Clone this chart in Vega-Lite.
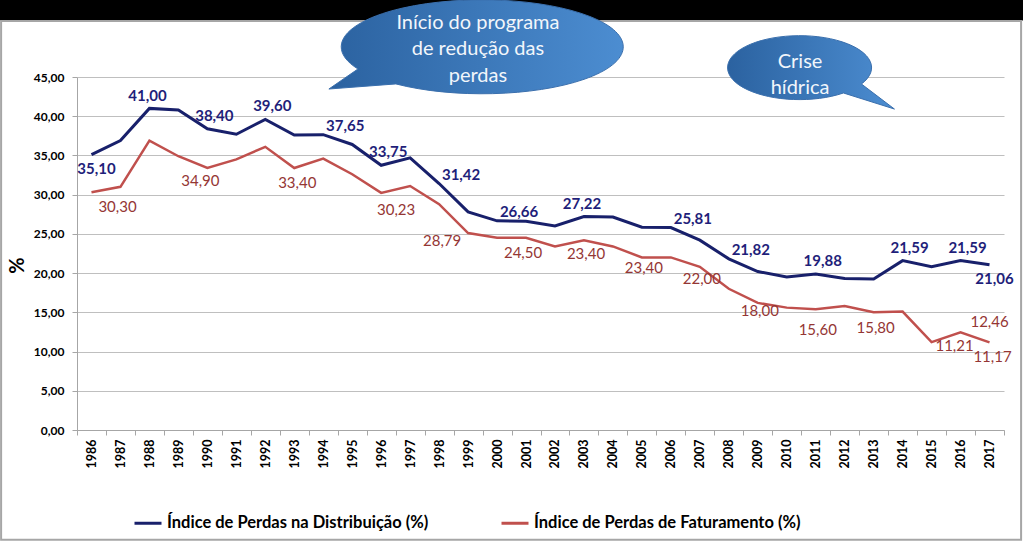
{
  "$schema": "https://vega.github.io/schema/vega-lite/v6.json",
  "width": 927,
  "height": 353,
  "autosize": {"type": "none"},
  "padding": {"left": 77, "top": 77, "right": 19, "bottom": 112},
  "background": "#FFFFFF",
  "config": {
    "font": "Lato",
    "locale": {"number": {"decimal": ",", "thousands": ".", "grouping": [3], "currency": ["R$", ""]}},
    "view": {"stroke": null}
  },
  "datasets": {
    "series": [
      {"ano": 1986, "serie": "Índice de Perdas na Distribuição (%)", "valor": 35.10},
      {"ano": 1987, "serie": "Índice de Perdas na Distribuição (%)", "valor": 36.9},
      {"ano": 1988, "serie": "Índice de Perdas na Distribuição (%)", "valor": 41.00},
      {"ano": 1989, "serie": "Índice de Perdas na Distribuição (%)", "valor": 40.8},
      {"ano": 1990, "serie": "Índice de Perdas na Distribuição (%)", "valor": 38.40},
      {"ano": 1991, "serie": "Índice de Perdas na Distribuição (%)", "valor": 37.7},
      {"ano": 1992, "serie": "Índice de Perdas na Distribuição (%)", "valor": 39.60},
      {"ano": 1993, "serie": "Índice de Perdas na Distribuição (%)", "valor": 37.6},
      {"ano": 1994, "serie": "Índice de Perdas na Distribuição (%)", "valor": 37.65},
      {"ano": 1995, "serie": "Índice de Perdas na Distribuição (%)", "valor": 36.4},
      {"ano": 1996, "serie": "Índice de Perdas na Distribuição (%)", "valor": 33.75},
      {"ano": 1997, "serie": "Índice de Perdas na Distribuição (%)", "valor": 34.7},
      {"ano": 1998, "serie": "Índice de Perdas na Distribuição (%)", "valor": 31.42},
      {"ano": 1999, "serie": "Índice de Perdas na Distribuição (%)", "valor": 27.8},
      {"ano": 2000, "serie": "Índice de Perdas na Distribuição (%)", "valor": 26.66},
      {"ano": 2001, "serie": "Índice de Perdas na Distribuição (%)", "valor": 26.6},
      {"ano": 2002, "serie": "Índice de Perdas na Distribuição (%)", "valor": 26.0},
      {"ano": 2003, "serie": "Índice de Perdas na Distribuição (%)", "valor": 27.22},
      {"ano": 2004, "serie": "Índice de Perdas na Distribuição (%)", "valor": 27.15},
      {"ano": 2005, "serie": "Índice de Perdas na Distribuição (%)", "valor": 25.85},
      {"ano": 2006, "serie": "Índice de Perdas na Distribuição (%)", "valor": 25.81},
      {"ano": 2007, "serie": "Índice de Perdas na Distribuição (%)", "valor": 24.2},
      {"ano": 2008, "serie": "Índice de Perdas na Distribuição (%)", "valor": 21.82},
      {"ano": 2009, "serie": "Índice de Perdas na Distribuição (%)", "valor": 20.2},
      {"ano": 2010, "serie": "Índice de Perdas na Distribuição (%)", "valor": 19.5},
      {"ano": 2011, "serie": "Índice de Perdas na Distribuição (%)", "valor": 19.88},
      {"ano": 2012, "serie": "Índice de Perdas na Distribuição (%)", "valor": 19.3},
      {"ano": 2013, "serie": "Índice de Perdas na Distribuição (%)", "valor": 19.25},
      {"ano": 2014, "serie": "Índice de Perdas na Distribuição (%)", "valor": 21.59},
      {"ano": 2015, "serie": "Índice de Perdas na Distribuição (%)", "valor": 20.8},
      {"ano": 2016, "serie": "Índice de Perdas na Distribuição (%)", "valor": 21.59},
      {"ano": 2017, "serie": "Índice de Perdas na Distribuição (%)", "valor": 21.06},
      {"ano": 1986, "serie": "Índice de Perdas de Faturamento (%)", "valor": 30.30},
      {"ano": 1987, "serie": "Índice de Perdas de Faturamento (%)", "valor": 31.0},
      {"ano": 1988, "serie": "Índice de Perdas de Faturamento (%)", "valor": 36.9},
      {"ano": 1989, "serie": "Índice de Perdas de Faturamento (%)", "valor": 34.90},
      {"ano": 1990, "serie": "Índice de Perdas de Faturamento (%)", "valor": 33.4},
      {"ano": 1991, "serie": "Índice de Perdas de Faturamento (%)", "valor": 34.5},
      {"ano": 1992, "serie": "Índice de Perdas de Faturamento (%)", "valor": 36.1},
      {"ano": 1993, "serie": "Índice de Perdas de Faturamento (%)", "valor": 33.40},
      {"ano": 1994, "serie": "Índice de Perdas de Faturamento (%)", "valor": 34.6},
      {"ano": 1995, "serie": "Índice de Perdas de Faturamento (%)", "valor": 32.6},
      {"ano": 1996, "serie": "Índice de Perdas de Faturamento (%)", "valor": 30.23},
      {"ano": 1997, "serie": "Índice de Perdas de Faturamento (%)", "valor": 31.1},
      {"ano": 1998, "serie": "Índice de Perdas de Faturamento (%)", "valor": 28.79},
      {"ano": 1999, "serie": "Índice de Perdas de Faturamento (%)", "valor": 25.1},
      {"ano": 2000, "serie": "Índice de Perdas de Faturamento (%)", "valor": 24.50},
      {"ano": 2001, "serie": "Índice de Perdas de Faturamento (%)", "valor": 24.5},
      {"ano": 2002, "serie": "Índice de Perdas de Faturamento (%)", "valor": 23.40},
      {"ano": 2003, "serie": "Índice de Perdas de Faturamento (%)", "valor": 24.2},
      {"ano": 2004, "serie": "Índice de Perdas de Faturamento (%)", "valor": 23.40},
      {"ano": 2005, "serie": "Índice de Perdas de Faturamento (%)", "valor": 22.0},
      {"ano": 2006, "serie": "Índice de Perdas de Faturamento (%)", "valor": 22.00},
      {"ano": 2007, "serie": "Índice de Perdas de Faturamento (%)", "valor": 20.8},
      {"ano": 2008, "serie": "Índice de Perdas de Faturamento (%)", "valor": 18.00},
      {"ano": 2009, "serie": "Índice de Perdas de Faturamento (%)", "valor": 16.2},
      {"ano": 2010, "serie": "Índice de Perdas de Faturamento (%)", "valor": 15.60},
      {"ano": 2011, "serie": "Índice de Perdas de Faturamento (%)", "valor": 15.4},
      {"ano": 2012, "serie": "Índice de Perdas de Faturamento (%)", "valor": 15.80},
      {"ano": 2013, "serie": "Índice de Perdas de Faturamento (%)", "valor": 15.0},
      {"ano": 2014, "serie": "Índice de Perdas de Faturamento (%)", "valor": 15.1},
      {"ano": 2015, "serie": "Índice de Perdas de Faturamento (%)", "valor": 11.21},
      {"ano": 2016, "serie": "Índice de Perdas de Faturamento (%)", "valor": 12.46},
      {"ano": 2017, "serie": "Índice de Perdas de Faturamento (%)", "valor": 11.17}
    ]
  },
  "layer": [
    {
      "data": {"name": "series"},
      "encoding": {
        "x": {
          "field": "ano", "type": "ordinal",
          "scale": {"paddingInner": 0, "paddingOuter": 0},
          "axis": {"title": null, "labelAngle": 270, "labelFont": "Lato", "labelFontSize": 12.5, "labelFontWeight": "bold", "labelColor": "#000000", "labelPadding": 4, "tickBand": "extent", "tickSize": 5, "tickColor": "#A6A6A6", "domainColor": "#A6A6A6", "grid": false}
        },
        "y": {
          "field": "valor", "type": "quantitative",
          "scale": {"domain": [0, 45], "nice": false},
          "axis": {"title": "%", "values": [0, 5, 10, 15, 20, 25, 30, 35, 40, 45], "format": ".2f", "labelFont": "Lato", "labelFontSize": 12, "labelFontWeight": "bold", "labelColor": "#000000", "labelPadding": 8, "tickSize": 5, "tickColor": "#A6A6A6", "domainColor": "#A6A6A6", "grid": true, "gridColor": "#BFBFBF", "titleFont": "Lato", "titleFontSize": 20, "titleFontWeight": "bold", "titleColor": "#000000", "titleAngle": 270, "titleX": -60, "titleY": 188, "titleBaseline": "middle", "titleAlign": "center"}
        }
      },
      "layer": [
        {
          "transform": [{"filter": {"field": "serie", "equal": "Índice de Perdas na Distribuição (%)"}}],
          "mark": {"type": "line", "strokeWidth": 3},
          "encoding": {
            "color": {"field": "serie", "type": "nominal",
              "scale": {"domain": ["Índice de Perdas na Distribuição (%)", "Índice de Perdas de Faturamento (%)"], "range": ["#18206B", "#C0504D"]},
              "legend": {"orient": "none", "legendX": 56, "legendY": 431, "direction": "horizontal", "title": null, "symbolType": "stroke", "symbolSize": 729, "symbolStrokeWidth": 3, "labelFont": "Lato", "labelFontSize": 16.5, "labelFontWeight": "bold", "labelColor": "#000000", "columnPadding": 66, "labelLimit": 400, "padding": 0}
            }
          }
        },
        {
          "transform": [{"filter": {"field": "serie", "equal": "Índice de Perdas de Faturamento (%)"}}],
          "mark": {"type": "line", "strokeWidth": 2.5},
          "encoding": {"color": {"field": "serie", "type": "nominal"}}
        },
        {
          "data": {"values": [{"ano": 1994}, {"ano": 2014}]},
          "mark": {"type": "rule", "color": "#000000", "strokeWidth": 2},
          "encoding": {"y": {"datum": 0, "type": "quantitative"}, "y2": {"datum": 45.4}}
        },
        {
          "transform": [{"filter": {"field": "serie", "equal": "Índice de Perdas na Distribuição (%)"}}, {"filter": {"field": "ano", "oneOf": [1990, 1992, 1996, 2011, 2014, 2016]}}],
          "mark": {"type": "text", "dx": 7, "dy": -13, "fontSize": 15, "fontWeight": "bold", "color": "#1F1F7A", "font": "Lato"},
          "encoding": {"text": {"field": "valor", "type": "quantitative", "format": ".2f"}}
        },
        {
          "transform": [{"filter": {"field": "serie", "equal": "Índice de Perdas na Distribuição (%)"}}, {"filter": {"field": "ano", "oneOf": [1988, 2003]}}],
          "mark": {"type": "text", "dx": -2, "dy": -12, "fontSize": 15, "fontWeight": "bold", "color": "#1F1F7A", "font": "Lato"},
          "encoding": {"text": {"field": "valor", "type": "quantitative", "format": ".2f"}}
        },
        {
          "transform": [{"filter": {"field": "serie", "equal": "Índice de Perdas na Distribuição (%)"}}, {"filter": {"field": "ano", "oneOf": [1994, 1998, 2000, 2006, 2008]}}],
          "mark": {"type": "text", "dx": 22, "dy": -9, "fontSize": 15, "fontWeight": "bold", "color": "#1F1F7A", "font": "Lato"},
          "encoding": {"text": {"field": "valor", "type": "quantitative", "format": ".2f"}}
        },
        {
          "transform": [{"filter": {"field": "serie", "equal": "Índice de Perdas na Distribuição (%)"}}, {"filter": {"field": "ano", "oneOf": [1986, 2017]}}],
          "mark": {"type": "text", "dx": 5, "dy": 14, "fontSize": 15, "fontWeight": "bold", "color": "#1F1F7A", "font": "Lato"},
          "encoding": {"text": {"field": "valor", "type": "quantitative", "format": ".2f"}}
        },
        {
          "transform": [{"filter": {"field": "serie", "equal": "Índice de Perdas de Faturamento (%)"}}, {"filter": {"field": "ano", "oneOf": [1986, 2000]}}],
          "mark": {"type": "text", "dx": 26, "dy": 15, "fontSize": 15, "color": "#943634", "font": "Lato"},
          "encoding": {"text": {"field": "valor", "type": "quantitative", "format": ".2f"}}
        },
        {
          "transform": [{"filter": {"field": "serie", "equal": "Índice de Perdas de Faturamento (%)"}}, {"filter": {"field": "ano", "oneOf": [1993, 2017]}}],
          "mark": {"type": "text", "dx": 3, "dy": 15, "fontSize": 15, "color": "#943634", "font": "Lato"},
          "encoding": {"text": {"field": "valor", "type": "quantitative", "format": ".2f"}}
        },
        {
          "transform": [{"filter": {"field": "serie", "equal": "Índice de Perdas de Faturamento (%)"}}, {"filter": {"field": "ano", "oneOf": [2004, 2006, 2008, 2010, 2012]}}],
          "mark": {"type": "text", "dx": 31, "dy": 22, "fontSize": 15, "color": "#943634", "font": "Lato"},
          "encoding": {"text": {"field": "valor", "type": "quantitative", "format": ".2f"}}
        },
        {
          "transform": [{"filter": {"field": "serie", "equal": "Índice de Perdas de Faturamento (%)"}}, {"filter": {"field": "ano", "oneOf": [1989]}}],
          "mark": {"type": "text", "dx": 22, "dy": 25, "fontSize": 15, "color": "#943634", "font": "Lato"},
          "encoding": {"text": {"field": "valor", "type": "quantitative", "format": ".2f"}}
        },
        {
          "transform": [{"filter": {"field": "serie", "equal": "Índice de Perdas de Faturamento (%)"}}, {"filter": {"field": "ano", "oneOf": [1996]}}],
          "mark": {"type": "text", "dx": 15, "dy": 17, "fontSize": 15, "color": "#943634", "font": "Lato"},
          "encoding": {"text": {"field": "valor", "type": "quantitative", "format": ".2f"}}
        },
        {
          "transform": [{"filter": {"field": "serie", "equal": "Índice de Perdas de Faturamento (%)"}}, {"filter": {"field": "ano", "oneOf": [1998]}}],
          "mark": {"type": "text", "dx": 3, "dy": 37, "fontSize": 15, "color": "#943634", "font": "Lato"},
          "encoding": {"text": {"field": "valor", "type": "quantitative", "format": ".2f"}}
        },
        {
          "transform": [{"filter": {"field": "serie", "equal": "Índice de Perdas de Faturamento (%)"}}, {"filter": {"field": "ano", "oneOf": [2002]}}],
          "mark": {"type": "text", "dx": 31, "dy": 8, "fontSize": 15, "color": "#943634", "font": "Lato"},
          "encoding": {"text": {"field": "valor", "type": "quantitative", "format": ".2f"}}
        },
        {
          "transform": [{"filter": {"field": "serie", "equal": "Índice de Perdas de Faturamento (%)"}}, {"filter": {"field": "ano", "oneOf": [2016]}}],
          "mark": {"type": "text", "dx": 29, "dy": -10, "fontSize": 15, "color": "#943634", "font": "Lato"},
          "encoding": {"text": {"field": "valor", "type": "quantitative", "format": ".2f"}}
        },
        {
          "transform": [{"filter": {"field": "serie", "equal": "Índice de Perdas de Faturamento (%)"}}, {"filter": {"field": "ano", "oneOf": [2015]}}],
          "mark": {"type": "text", "dx": 23, "dy": 4, "fontSize": 15, "color": "#943634", "font": "Lato"},
          "encoding": {"text": {"field": "valor", "type": "quantitative", "format": ".2f"}}
        }
      ]
    },
    {
      "encoding": {
        "x": {"field": "x", "type": "quantitative", "scale": {"domain": [1985.5, 2017.5], "nice": false, "zero": false}, "axis": null},
        "y": {"field": "y", "type": "quantitative", "scale": {"domain": [0, 45], "nice": false, "zero": false}, "axis": null}
      },
      "layer": [
        {
          "data": {"values": [{"x": 1982, "x2": 2019.5, "y": 52.2, "y2": 57}]},
          "mark": {"type": "rect", "color": "#000000"},
          "encoding": {"x2": {"field": "x2"}, "y2": {"field": "y2"}}
        },
        {
          "data": {"values": [{"x": 1982.88, "x2": 2018.09, "y": -14.0, "y2": 52.14}]},
          "mark": {"type": "rect", "filled": false, "color": "#A6A6A6", "stroke": "#A6A6A6", "strokeWidth": 2},
          "encoding": {"x2": {"field": "x2"}, "y2": {"field": "y2"}}
        },
        {
          "data": {"values": [{"x": 1999.72, "y": 48.7}]},
          "mark": {"type": "point", "shape": "M-0.929,0.149 A1,0.333 0 1,1 -0.66,0.255 L-1.135,0.291 Z", "size": 79524, "filled": true, "opacity": 1,
            "fill": {"gradient": "linear", "x1": 0, "y1": 0.5, "x2": 1, "y2": 0.5, "stops": [{"offset": 0, "color": "#2B62A0"}, {"offset": 1, "color": "#4C8DD1"}]},
            "stroke": "#3A6FAD", "strokeWidth": 1}
        },
        {
          "data": {"values": [{"x": 1999.34, "y": 51.89, "t": "Início do programa\nde redução das\nperdas"}]},
          "mark": {"type": "text", "lineBreak": "\n", "lineHeight": 26.5, "fontSize": 20, "font": "Lato", "color": "#F2F6FB", "align": "center", "baseline": "middle"},
          "encoding": {"text": {"field": "t"}}
        },
        {
          "data": {"values": [{"x": 2010.3, "y": 45.89}]},
          "mark": {"type": "point", "shape": "M0.667,0.319 A1,0.444 0 1,1 0.917,0.194 L1.375,0.542 Z", "size": 20736, "filled": true, "opacity": 1,
            "fill": {"gradient": "linear", "x1": 0, "y1": 0.5, "x2": 1, "y2": 0.5, "stops": [{"offset": 0, "color": "#2B62A0"}, {"offset": 1, "color": "#4C8DD1"}]},
            "stroke": "#3A6FAD", "strokeWidth": 1}
        },
        {
          "data": {"values": [{"x": 2010.46, "y": 46.91, "t": "Crise\nhídrica"}]},
          "mark": {"type": "text", "lineBreak": "\n", "lineHeight": 26, "fontSize": 20, "font": "Lato", "color": "#F2F6FB", "align": "center", "baseline": "middle"},
          "encoding": {"text": {"field": "t"}}
        }
      ]
    }
  ],
  "resolve": {"scale": {"x": "independent", "y": "independent"}}
}
